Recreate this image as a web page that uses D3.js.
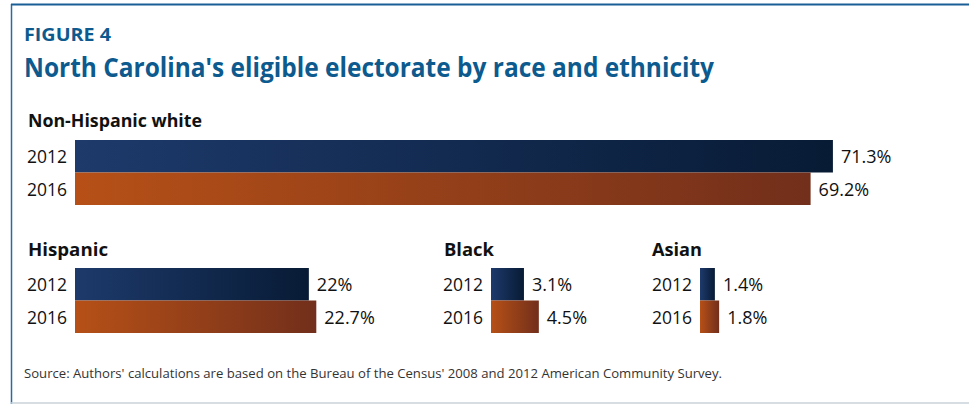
<!DOCTYPE html>
<html>
<head>
<meta charset="utf-8">
<script src="https://cdn.jsdelivr.net/npm/d3@7"></script>
<style>
  html, body { margin: 0; padding: 0; background: #fff; }
  svg { display: block; font-family: "Open Sans", "Noto Sans", sans-serif; }
</style>
</head>
<body>
<svg id="chart" width="969" height="404"></svg>
<script>
// Share of North Carolina's eligible electorate, by group and year (%)
const groups = ["Non-Hispanic white", "Hispanic", "Black", "Asian"];
const years = ["2012", "2016"];
const values2012 = [71.3, 22, 3.1, 1.4];
const values2016 = [69.2, 22.7, 4.5, 1.8];
const valueLabels2012 = ["71.3%", "22%", "3.1%", "1.4%"];
const valueLabels2016 = ["69.2%", "22.7%", "4.5%", "1.8%"];

const svg = d3.select("#chart");
const W = 969, H = 404;

// Frame
svg.append("line").attr("x1", 11.5).attr("x2", 11.5).attr("y1", 4).attr("y2", 404)
  .attr("stroke", "#2a6aa0").attr("stroke-width", 1.5);
svg.append("line").attr("x1", 11).attr("x2", 969).attr("y1", 4.5).attr("y2", 4.5)
  .attr("stroke", "#1a5e98").attr("stroke-width", 2);
svg.append("line").attr("x1", 11).attr("x2", 969).attr("y1", 403).attr("y2", 403)
  .attr("stroke", "#c9d3db").attr("stroke-width", 1.5);

// Headings
svg.append("text").attr("x", 24).attr("y", 41)
  .attr("fill", "#0d5a8e").attr("font-weight", 700).attr("font-size", 17)
  .attr("textLength", 87).attr("lengthAdjust", "spacingAndGlyphs")
  .text("FIGURE 4");
svg.append("text").attr("x", 24).attr("y", 77)
  .attr("fill", "#0d5a8e").attr("font-weight", 700).attr("font-size", 26)
  .attr("textLength", 690).attr("lengthAdjust", "spacingAndGlyphs")
  .text("North Carolina's eligible electorate by race and ethnicity");

// Gradients for the two years
const defs = svg.append("defs");
const gradStops = {
  "2012": ["#1d3a6b", "#081b35"],
  "2016": ["#b65017", "#722f1b"]
};
years.forEach(y => {
  const g = defs.append("linearGradient").attr("id", "grad" + y)
    .attr("x1", "0%").attr("x2", "100%").attr("y1", "0%").attr("y2", "0%");
  g.append("stop").attr("offset", "0%").attr("stop-color", gradStops[y][0]);
  g.append("stop").attr("offset", "100%").attr("stop-color", gradStops[y][1]);
});

// Common length scale for every panel
const x = d3.scaleLinear().domain([0, 100]).range([0, 1063]);

// Panel placement: header x, bar origin x, header baseline y, first bar top y
const panels = [
  { hx: 28, bx: 75, hy: 127, by: 140, hw: 174 },
  { hx: 28, bx: 75, hy: 256, by: 268, hw: 80 },
  { hx: 444, bx: 491, hy: 256, by: 268, hw: 50 },
  { hx: 652, bx: 700, hy: 256, by: 268, hw: 50 }
];

const y = d3.scaleBand().domain(years).range([0, 65]).paddingInner(0);

groups.forEach((name, i) => {
  const p = panels[i];
  const g = svg.append("g");
  g.append("text").attr("x", p.hx).attr("y", p.hy)
    .attr("font-weight", 700).attr("font-size", 18).attr("fill", "#111")
    .attr("textLength", p.hw).attr("lengthAdjust", "spacingAndGlyphs")
    .text(name);

  const rows = [
    { year: "2012", v: values2012[i], lab: valueLabels2012[i] },
    { year: "2016", v: values2016[i], lab: valueLabels2016[i] }
  ];
  rows.forEach(r => {
    const top = p.by + y(r.year);
    const mid = top + y.bandwidth() / 2;
    g.append("rect").attr("x", p.bx).attr("y", top)
      .attr("width", x(r.v)).attr("height", y.bandwidth())
      .attr("fill", "url(#grad" + r.year + ")");
    g.append("text").attr("x", p.bx - 8).attr("y", mid)
      .attr("text-anchor", "end").attr("dominant-baseline", "central")
      .attr("font-size", 18).attr("fill", "#111")
      .attr("textLength", 40).attr("lengthAdjust", "spacingAndGlyphs")
      .text(r.year);
    g.append("text").attr("x", p.bx + x(r.v) + 8).attr("y", mid)
      .attr("dominant-baseline", "central")
      .attr("font-size", 18).attr("fill", "#111")
      .text(r.lab);
  });
});

// Source note
svg.append("text").attr("x", 24).attr("y", 378)
  .attr("font-size", 12).attr("fill", "#333")
  .attr("textLength", 698).attr("lengthAdjust", "spacingAndGlyphs")
  .text("Source: Authors' calculations are based on the Bureau of the Census' 2008 and 2012 American Community Survey.");
</script>
</body>
</html>
